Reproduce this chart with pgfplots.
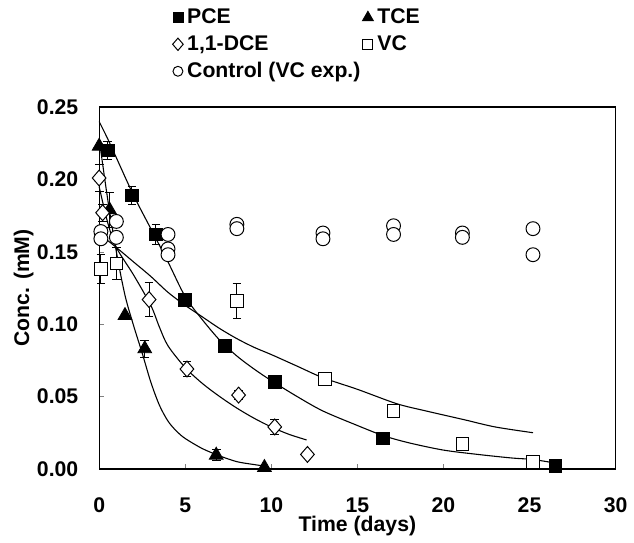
\documentclass[border=0pt]{standalone}
\usepackage{fontspec}
\setmainfont{Liberation Sans}
\usepackage{pgfplots}
\pgfplotsset{compat=1.18}

\newcommand{\chartfont}{\fontsize{10.7}{12.8}\selectfont\bfseries}

\begin{document}
\begin{tikzpicture}[font=\chartfont]
\begin{axis}[
    scale only axis, width=260.5pt, height=182.5pt,
    xmin=0, xmax=30, ymin=0, ymax=0.25,
    xtick={0,5,...,30}, ytick={0,0.05,0.10,0.15,0.20,0.25},
    scaled y ticks=false,
    /pgf/number format/assume math mode=true,
    yticklabel style={/pgf/number format/fixed, /pgf/number format/fixed zerofill,
        /pgf/number format/precision=2, /tikz/xshift=-7pt},
    tick align=inside, tick pos=left, major tick length=2.5pt,
    ticklabel style={font=\chartfont},
    xticklabel style={yshift=-11pt},
    xlabel={Time (days)}, ylabel={Conc. (mM)},
    every axis x label/.style={at={(rel axis cs:0.5,-0.157)}, anchor=center},
    every axis y label/.style={at={(rel axis cs:-0.146,0.5)}, rotate=90, anchor=center},
    axis line style={line width=0.6pt},
    clip=false,
    legend columns=2, legend cell align=left,
    legend style={at={(rel axis cs:0.13,1.295)}, anchor=north west,
        draw=none, fill=none, font=\chartfont, row sep=0.5pt,
        /tikz/column 2/.style={column sep=-1pt}},
]
% bounding box matching the reference margins
\path (rel axis cs:-0.192,-0.175) rectangle (rel axis cs:1.025,1.296);

% fitted curves
\addplot[forget plot, black, line width=0.55pt, smooth, tension=0.5] coordinates {
    (0,0.240)(0.5,0.228)(1,0.215)(2,0.189)(3,0.166)(4,0.143)(5,0.119)(6,0.103)
    (7,0.089)(8,0.078)(9,0.069)(10,0.061)(11.5,0.050)(13,0.040)(15,0.030)
    (16.5,0.023)(18,0.018)(20,0.013)(22,0.010)(24,0.0075)(25.2,0.0065)(26.5,0.004)};
\addplot[forget plot, black, line width=0.55pt, smooth, tension=0.5] coordinates {
    (0,0.228)(0.5,0.186)(1,0.150)(1.5,0.120)(2,0.099)(2.5,0.080)(3,0.060)
    (3.5,0.044)(4,0.033)(4.5,0.026)(5,0.021)(6,0.014)(7,0.009)(8,0.005)(9,0.003)(9.6,0.002)};
\addplot[forget plot, black, line width=0.55pt, smooth, tension=0.5] coordinates {
    (0,0.195)(0.5,0.170)(1,0.153)(2,0.134)(3,0.113)(3.5,0.098)(4,0.085)(5,0.070)
    (6,0.059)(7,0.050)(8,0.042)(9,0.035)(10,0.029)(11,0.024)(12.05,0.020)};
\addplot[forget plot, black, line width=0.55pt, smooth, tension=0.5] coordinates {
    (0,0.162)(0.58,0.157)(1,0.153)(2,0.143)(3,0.133)(4,0.122)(5,0.113)(6,0.105)
    (7,0.097)(8,0.090)(9,0.084)(10,0.079)(11.5,0.071)(13,0.063)(15,0.055)
    (17.3,0.045)(19,0.040)(21.2,0.034)(23,0.029)(25.2,0.025)};

% error bars (drawn under the markers)
\addplot[forget plot, black, only marks, mark=*, mark size=0pt,
    error bars/.cd, y dir=both, y explicit, error mark=-,
    error bar style={black, line width=0.5pt},
    error mark options={rotate=90, black, mark size=2.2pt, line width=0.5pt}]
    table[x=t, y=c, y error=e] {
t    c      e
0.5  0.220  0.006
1.9  0.189  0.006
3.3  0.162  0.007
16.5 0.021  0.004
0.6  0.179  0.012
2.65 0.083  0.006
6.8  0.0095 0.004
0.0  0.201  0.009
0.2  0.177  0.006
2.9  0.117  0.012
5.1  0.069  0.005
8.1  0.051  0.003
10.2 0.029  0.005
0.1  0.138  0.010
1.0  0.142  0.011
8.0  0.116  0.012
13.1 0.062  0.002
};

% PCE
\addplot[only marks, mark=square*, mark size=3.2pt,
    mark options={fill=black, draw=black},
    legend image post style={mark size=2.5pt}] table[x=t, y=c] {
t    c
0.5  0.220
1.9  0.189
3.3  0.162
5.0  0.117
7.3  0.085
10.2 0.060
16.5 0.021
26.5 0.002
};
\addlegendentry{PCE}
% TCE
\addplot[only marks, mark=triangle*, mark size=4pt,
    mark options={fill=black, draw=black},
    legend image post style={mark size=3.2pt}] table[x=t, y=c] {
t    c
0.0  0.223
0.6  0.179
1.5  0.106
2.65 0.083
6.8  0.0095
9.6  0.001
};
\addlegendentry{TCE}
% 1,1-DCE
\addplot[only marks, mark=diamond*, mark size=4pt,
    mark options={fill=white, draw=black, line width=0.5pt, xscale=1.15},
    legend image post style={mark size=3.1pt}] table[x=t, y=c] {
t    c
0.0  0.201
0.2  0.177
2.9  0.117
5.1  0.069
8.1  0.051
10.2 0.029
12.1 0.010
};
\addlegendentry{1,1-DCE}
% VC
\addplot[only marks, mark=square*, mark size=3.2pt,
    mark options={fill=white, draw=black, line width=0.5pt},
    legend image post style={mark size=2.5pt}] table[x=t, y=c] {
t    c
0.1  0.138
1.0  0.142
8.0  0.116
13.1 0.062
17.1 0.040
21.1 0.017
25.2 0.005
};
\addlegendentry{VC}
% Control (VC exp.)
\addplot[only marks, mark=*, mark size=3.5pt,
    mark options={fill=white, draw=black, line width=0.5pt},
    legend image post style={mark size=2.5pt}] table[x=t, y=c] {
t    c
0.1  0.164
0.1  0.159
1.0  0.171
1.0  0.160
4.0  0.162
4.0  0.152
4.0  0.148
8.0  0.169
8.0  0.166
13.0 0.163
13.0 0.159
17.1 0.168
17.1 0.162
21.1 0.163
21.1 0.160
25.2 0.166
25.2 0.148
};
\addlegendentry{Control (VC exp.)}
\end{axis}
\end{tikzpicture}
\end{document}
